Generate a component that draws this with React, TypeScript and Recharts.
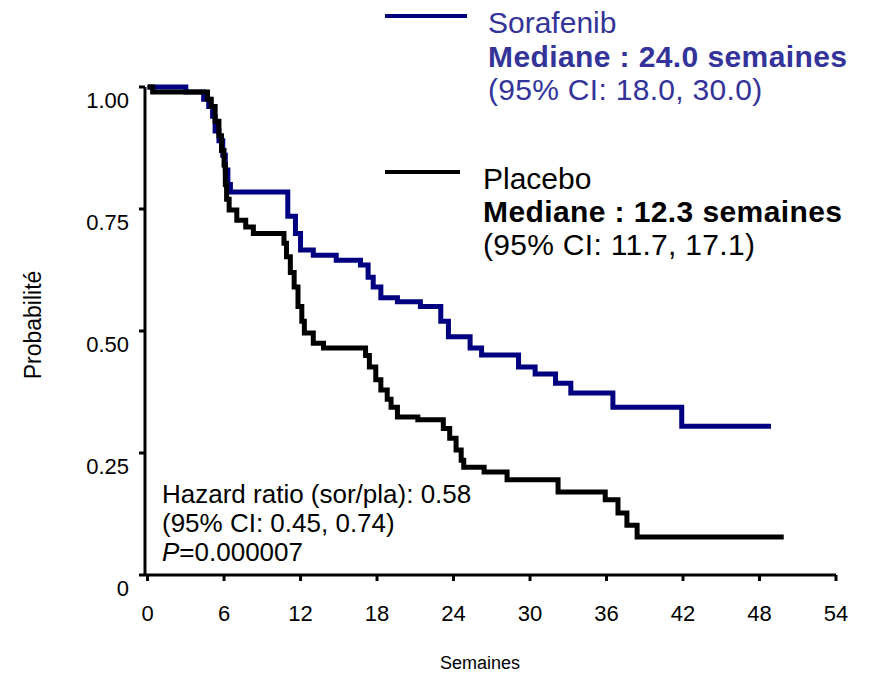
import React from 'react';
import { LineChart, Line, XAxis, YAxis } from 'recharts';

// Kaplan-Meier curves (weeks, survival probability)
const sorafenibWeeks = [0, 3.0, 4.4, 4.8, 5.1, 5.3, 5.6, 5.9, 6.1, 6.3, 6.5, 11.0, 11.6, 12.0, 13.0, 14.8, 16.7, 17.3, 17.7, 18.3, 19.6, 21.4, 23.0, 23.6, 25.3, 26.2, 29.1, 30.4, 32.0, 33.2, 36.5, 41.9, 48.9];
const sorafenibSurv = [1.0, 0.99, 0.975, 0.96, 0.94, 0.91, 0.89, 0.86, 0.83, 0.8, 0.785, 0.735, 0.7, 0.666, 0.655, 0.645, 0.635, 0.61, 0.59, 0.568, 0.56, 0.55, 0.52, 0.488, 0.465, 0.451, 0.426, 0.412, 0.393, 0.373, 0.344, 0.305, 0.305];

const placeboWeeks = [0, 0.4, 4.7, 5.0, 5.3, 5.6, 5.8, 6.0, 6.1, 6.2, 6.4, 7.0, 7.7, 8.3, 10.7, 10.9, 11.2, 11.5, 11.8, 12.1, 12.3, 13.0, 13.8, 17.1, 17.4, 17.9, 18.3, 18.8, 19.1, 19.6, 21.2, 23.2, 23.7, 24.2, 24.6, 24.8, 26.4, 28.2, 32.2, 35.9, 36.9, 37.6, 38.4, 49.9];
const placeboSurv = [1.0, 0.99, 0.975, 0.96, 0.93, 0.9, 0.87, 0.84, 0.8, 0.77, 0.748, 0.727, 0.713, 0.7, 0.68, 0.652, 0.62, 0.59, 0.55, 0.52, 0.496, 0.475, 0.465, 0.45, 0.426, 0.4, 0.379, 0.36, 0.344, 0.324, 0.318, 0.3, 0.28, 0.256, 0.235, 0.221, 0.211, 0.195, 0.17, 0.154, 0.127, 0.102, 0.078, 0.078];

const xTicks = [0, 6, 12, 18, 24, 30, 36, 42, 48, 54];
const yTicks = [0, 0.25, 0.5, 0.75, 1];

const FONT = '"Liberation Sans", Arial, Helvetica, sans-serif';
const NAVY = '#000080';
const BLUE_TEXT = '#333399';

const sorafenibData = sorafenibWeeks.map((t, i) => ({ t, s: sorafenibSurv[i] }));
const placeboData = placeboWeeks.map((t, i) => ({ t, s: placeboSurv[i] }));

const YTick = (props: any) => {
  const { x, y, payload } = props;
  const label = payload.value === 0 ? '0' : payload.value.toFixed(2);
  return (
    <text x={x - 8} y={y + 13} textAnchor="end" dominantBaseline="central" fontSize={22} fontFamily={FONT} fill="#000">
      {label}
    </text>
  );
};

const XTick = (props: any) => {
  const { x, y, payload } = props;
  return (
    <text x={x} y={y + 30} textAnchor="middle" dominantBaseline="central" fontSize={22} fontFamily={FONT} fill="#000">
      {payload.value}
    </text>
  );
};

export default function App() {
  return (
    <div style={{ position: 'absolute', left: 0, top: 0, width: 876, height: 679, background: '#fff' }}>
      <LineChart width={876} height={679} margin={{ top: 87, right: 40, bottom: 44, left: 0 }}>
        <XAxis
          type="number"
          dataKey="t"
          domain={[-0.2, 54]}
          ticks={xTicks}
          allowDataOverflow
          height={60}
          axisLine={{ stroke: '#000', strokeWidth: 3 }}
          tickLine={{ stroke: '#000', strokeWidth: 3 }}
          tickSize={6}
          tick={<XTick />}
        />
        <YAxis
          type="number"
          domain={[0, 1]}
          ticks={yTicks}
          width={145}
          axisLine={{ stroke: '#000', strokeWidth: 3 }}
          tickLine={{ stroke: '#000', strokeWidth: 3 }}
          tickSize={6}
          tick={<YTick />}
        />
        <Line data={sorafenibData} dataKey="s" type="stepAfter" stroke={NAVY} strokeWidth={5} dot={false} isAnimationActive={false} />
        <Line data={placeboData} dataKey="s" type="stepAfter" stroke="#000" strokeWidth={5} dot={false} isAnimationActive={false} />
      </LineChart>
      <svg width={876} height={679} style={{ position: 'absolute', left: 0, top: 0, pointerEvents: 'none' }} fontFamily={FONT}>
        <line x1={385} x2={467} y1={16} y2={16} stroke={NAVY} strokeWidth={4} />
        <text x={488} y={33} fontSize={30} fill={BLUE_TEXT}>Sorafenib</text>
        <text x={488} y={67} fontSize={30} fill={BLUE_TEXT} fontWeight="bold" letterSpacing={0.4}>Mediane : 24.0 semaines</text>
        <text x={488} y={100} fontSize={30} fill={BLUE_TEXT} letterSpacing={0.3}>(95% CI: 18.0, 30.0)</text>

        <line x1={385} x2={460} y1={172} y2={172} stroke="#000" strokeWidth={4} />
        <text x={483} y={189} fontSize={30} fill="#000">Placebo</text>
        <text x={483} y={222} fontSize={30} fill="#000" fontWeight="bold" letterSpacing={0.4}>Mediane : 12.3 semaines</text>
        <text x={483} y={255} fontSize={30} fill="#000" letterSpacing={0.3}>(95% CI: 11.7, 17.1)</text>

        <text x={162} y={503} fontSize={26} fill="#000">Hazard ratio (sor/pla): 0.58</text>
        <text x={162} y={532} fontSize={26} fill="#000">(95% CI: 0.45, 0.74)</text>
        <text x={162} y={561} fontSize={26} fill="#000">
          <tspan fontStyle="italic">P</tspan>=0.000007
        </text>

        <text x={33} y={325} fontSize={23} fill="#000" textAnchor="middle" dominantBaseline="central" transform="rotate(-90 33 325)">Probabilité</text>
        <text x={480} y={663} fontSize={18} fill="#000" textAnchor="middle" dominantBaseline="central">Semaines</text>
      </svg>
    </div>
  );
}
